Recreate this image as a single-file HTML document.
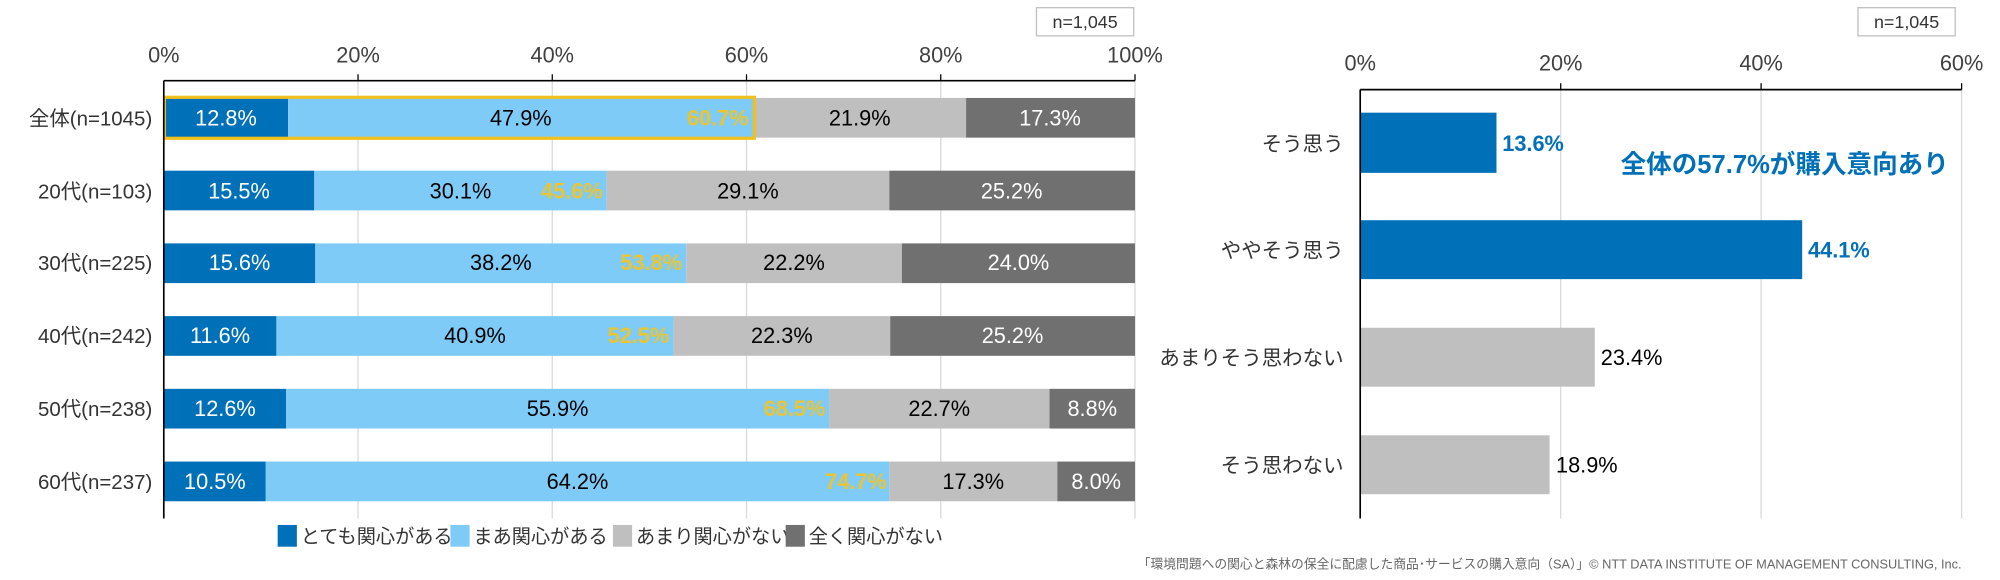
<!DOCTYPE html>
<html><head><meta charset="utf-8"><style>
html,body{margin:0;padding:0;background:#fff;}
svg{display:block;}
text{font-family:"Liberation Sans","Noto Sans CJK JP",sans-serif;}
</style></head><body>
<svg width="2000" height="580" viewBox="0 0 1563 453" preserveAspectRatio="none" xmlns="http://www.w3.org/2000/svg">
<rect width="1563" height="453" fill="#fff"/>
<rect x="810" y="6" width="76" height="22" fill="#fff" stroke="#bfbfbf"/>
<text x="848" y="22" font-size="14" text-anchor="middle" fill="#333">n=1,045</text>
<rect x="1452" y="6" width="76" height="22" fill="#fff" stroke="#bfbfbf"/>
<text x="1490" y="22" font-size="14" text-anchor="middle" fill="#333">n=1,045</text>

<g stroke="#d9d9d9" stroke-width="1">
<line x1="279.8" y1="63" x2="279.8" y2="405"/><line x1="431.6" y1="63" x2="431.6" y2="405"/>
<line x1="583.4" y1="63" x2="583.4" y2="405"/><line x1="735.2" y1="63" x2="735.2" y2="405"/>
<line x1="887" y1="63" x2="887" y2="405"/>
</g>
<g font-size="17" fill="#404040" text-anchor="middle">
<text x="128" y="49">0%</text><text x="279.8" y="49">20%</text><text x="431.6" y="49">40%</text>
<text x="583.4" y="49">60%</text><text x="735.2" y="49">80%</text><text x="887" y="49">100%</text>
</g>

<g font-size="16" fill="#333" text-anchor="end">
<text x="119" y="98">全体(n=1045)</text><text x="119" y="155">20代(n=103)</text>
<text x="119" y="211">30代(n=225)</text><text x="119" y="268">40代(n=242)</text>
<text x="119" y="325">50代(n=238)</text><text x="119" y="382">60代(n=237)</text>
</g>
<g>
<rect x="128" y="76.5" width="97.2" height="31" fill="#0070b8"/><rect x="225.2" y="76.5" width="363.6" height="31" fill="#7fcbf8"/><rect x="588.8" y="76.5" width="166.2" height="31" fill="#bfbfbf"/><rect x="755" y="76.5" width="132" height="31" fill="#707070"/>
<rect x="128" y="133.3" width="117.6" height="31" fill="#0070b8"/><rect x="245.6" y="133.3" width="228.5" height="31" fill="#7fcbf8"/><rect x="474.1" y="133.3" width="220.9" height="31" fill="#bfbfbf"/><rect x="695" y="133.3" width="192" height="31" fill="#707070"/>
<rect x="128" y="190.1" width="118.4" height="31" fill="#0070b8"/><rect x="246.4" y="190.1" width="289.9" height="31" fill="#7fcbf8"/><rect x="536.3" y="190.1" width="168.5" height="31" fill="#bfbfbf"/><rect x="704.8" y="190.1" width="182.2" height="31" fill="#707070"/>
<rect x="128" y="246.9" width="88" height="31" fill="#0070b8"/><rect x="216" y="246.9" width="310.4" height="31" fill="#7fcbf8"/><rect x="526.4" y="246.9" width="169.3" height="31" fill="#bfbfbf"/><rect x="695.7" y="246.9" width="191.3" height="31" fill="#707070"/>
<rect x="128" y="303.7" width="95.6" height="31" fill="#0070b8"/><rect x="223.6" y="303.7" width="424.3" height="31" fill="#7fcbf8"/><rect x="647.9" y="303.7" width="172.3" height="31" fill="#bfbfbf"/><rect x="820.2" y="303.7" width="66.8" height="31" fill="#707070"/>
<rect x="128" y="360.5" width="79.7" height="31" fill="#0070b8"/><rect x="207.7" y="360.5" width="487.3" height="31" fill="#7fcbf8"/><rect x="695" y="360.5" width="131.3" height="31" fill="#bfbfbf"/><rect x="826.3" y="360.5" width="60.7" height="31" fill="#707070"/>
</g>
<rect x="128.5" y="76" width="461" height="32" fill="none" stroke="#f2c01e" stroke-width="2.5"/>
<line x1="128" y1="63" x2="887" y2="63" stroke="#000" stroke-width="1.3"/>
<line x1="128" y1="63" x2="128" y2="405" stroke="#000" stroke-width="1.3"/>
<g stroke="#000" stroke-width="1"><line x1="279.8" y1="58" x2="279.8" y2="63"/><line x1="431.6" y1="58" x2="431.6" y2="63"/><line x1="583.4" y1="58" x2="583.4" y2="63"/><line x1="735.2" y1="58" x2="735.2" y2="63"/><line x1="887" y1="58" x2="887" y2="63"/></g>
<g font-size="17" text-anchor="middle">
<g fill="#fff"><text x="176.6" y="98">12.8%</text><text x="186.8" y="155">15.5%</text><text x="187.2" y="211">15.6%</text><text x="172" y="268">11.6%</text><text x="175.8" y="325">12.6%</text><text x="167.9" y="382">10.5%</text>
<text x="820.6" y="98">17.3%</text><text x="790.6" y="155">25.2%</text><text x="795.9" y="211">24.0%</text><text x="791.3" y="268">25.2%</text><text x="853.6" y="325">8.8%</text><text x="856.7" y="382">8.0%</text></g>
<g fill="#000"><text x="407" y="98">47.9%</text><text x="359.9" y="155">30.1%</text><text x="391.4" y="211">38.2%</text><text x="371.2" y="268">40.9%</text><text x="435.8" y="325">55.9%</text><text x="451.3" y="382">64.2%</text>
<text x="671.9" y="98">21.9%</text><text x="584.5" y="155">29.1%</text><text x="620.5" y="211">22.2%</text><text x="611" y="268">22.3%</text><text x="734" y="325">22.7%</text><text x="760.6" y="382">17.3%</text></g>
</g>
<g font-size="17" font-weight="bold" fill="#ebc430" text-anchor="end">
<text x="585" y="98">60.7%</text><text x="471" y="155">45.6%</text><text x="533" y="211">53.8%</text><text x="523" y="268">52.5%</text><text x="645" y="325">68.5%</text><text x="693" y="382">74.7%</text>
</g>
<g font-size="15" fill="#333">
<rect x="217" y="410" width="15" height="17" fill="#0070b8"/><text x="235" y="424">とても関心がある</text>
<rect x="352" y="410" width="15" height="17" fill="#7fcbf8"/><text x="370" y="424">まあ関心がある</text>
<rect x="479" y="410" width="15" height="17" fill="#bfbfbf"/><text x="497" y="424">あまり関心がない</text>
<rect x="614" y="410" width="15" height="17" fill="#707070"/><text x="632" y="424">全く関心がない</text>
</g>

<g stroke="#d9d9d9" stroke-width="1">
<line x1="1219.7" y1="70" x2="1219.7" y2="405"/><line x1="1376.3" y1="70" x2="1376.3" y2="405"/><line x1="1533" y1="70" x2="1533" y2="405"/>
</g>
<g font-size="17" fill="#404040" text-anchor="middle">
<text x="1063" y="55">0%</text><text x="1219.7" y="55">20%</text><text x="1376.3" y="55">40%</text><text x="1533" y="55">60%</text>
</g>
<rect x="1063" y="88" width="106.5" height="47" fill="#0070b8"/>
<rect x="1063" y="172" width="345.4" height="46" fill="#0070b8"/>
<rect x="1063" y="256" width="183.3" height="46" fill="#bfbfbf"/>
<rect x="1063" y="340" width="148" height="46" fill="#bfbfbf"/>
<line x1="1063" y1="70" x2="1533" y2="70" stroke="#000" stroke-width="1.3"/>
<line x1="1063" y1="70" x2="1063" y2="405" stroke="#000" stroke-width="1.3"/>
<g stroke="#000"><line x1="1219.7" y1="65" x2="1219.7" y2="70"/><line x1="1376.3" y1="65" x2="1376.3" y2="70"/><line x1="1533" y1="65" x2="1533" y2="70"/></g>
<g font-size="16" fill="#333" text-anchor="end">
<text x="1050" y="118">そう思う</text><text x="1050" y="201">ややそう思う</text><text x="1050" y="285">あまりそう思わない</text><text x="1050" y="369">そう思わない</text>
</g>
<g font-size="17">
<text x="1174" y="118" fill="#0070b8" font-weight="bold">13.6%</text>
<text x="1413" y="201" fill="#0070b8" font-weight="bold">44.1%</text>
<text x="1251" y="285" fill="#000">23.4%</text>
<text x="1216" y="369" fill="#000">18.9%</text>
</g>
<text x="1523" y="135" font-size="20" font-weight="bold" fill="#0070b8" text-anchor="end">全体の57.7%が購入意向あり</text>
<text x="1533" y="444" font-size="10" fill="#666" text-anchor="end">「環境問題への関心と森林の保全に配慮した商品･サービスの購入意向（SA）」© NTT DATA INSTITUTE OF MANAGEMENT CONSULTING, Inc.</text>
</svg>
</body></html>
